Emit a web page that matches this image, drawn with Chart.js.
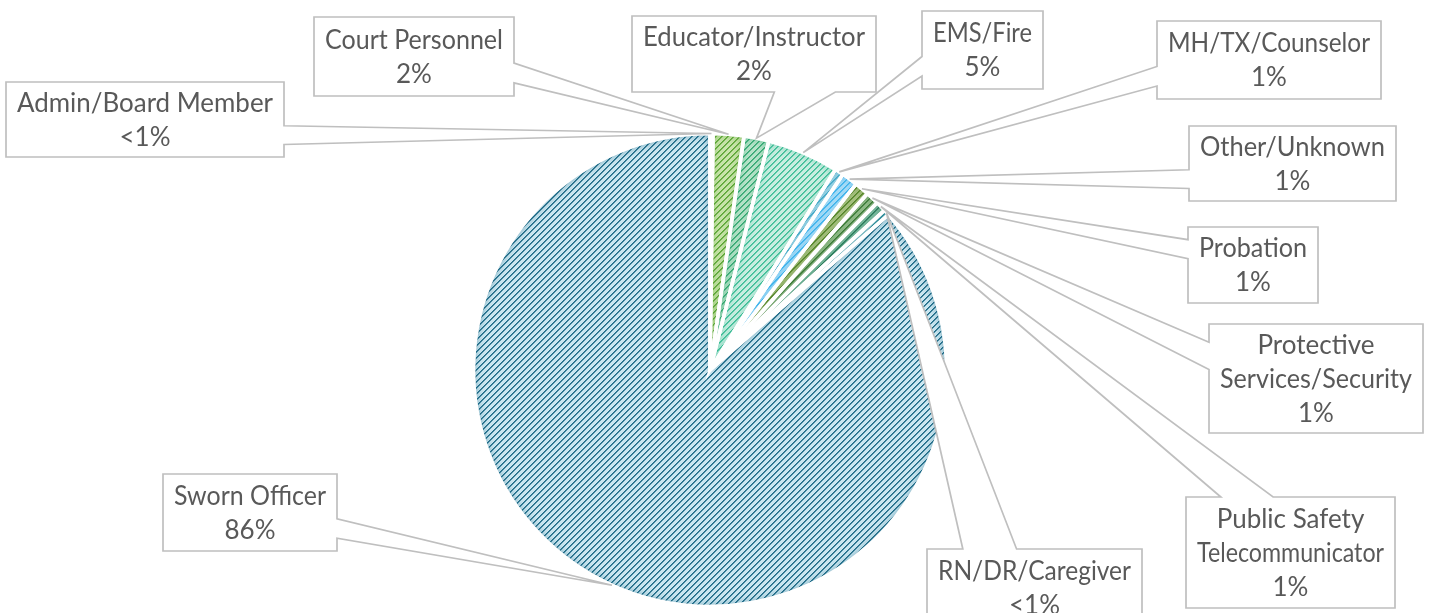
<!DOCTYPE html>
<html>
<head>
<meta charset="utf-8">
<script src="https://cdn.jsdelivr.net/npm/chart.js@4.4.0/dist/chart.umd.min.js"></script>
<style>
  html, body { margin: 0; padding: 0; background: #fff; }
  canvas { display: block; }
</style>
</head>
<body>
<canvas id="rolesChart" width="1432" height="613"></canvas>
<script>
// Respondents by role, percent of total
const categories = [
  ['Admin/Board Member'], ['Court Personnel'], ['Educator/Instructor'], ['EMS/Fire'],
  ['MH/TX/Counselor'], ['Other/Unknown'], ['Probation'], ['Protective', 'Services/Security'],
  ['Public Safety', 'Telecommunicator'], ['RN/DR/Caregiver'], ['Sworn Officer']
];
const shares = [0.2, 2.1, 1.7, 4.9, 0.6, 1.1, 1.0, 0.9, 0.7, 0.4, 86.4];

// [background, stripe] for each slice pattern
const sliceColors = [
  ['#bfe0e8', '#3f8fa3'],
  ['#c9e5ab', '#5ba536'],
  ['#b8e4ca', '#35a873'],
  ['#c9eee1', '#3dbd97'],
  ['#acdbea', '#45a9c7'],
  ['#addef7', '#3db3ec'],
  ['#adc687', '#55862a'],
  ['#99c291', '#3d7b39'],
  ['#89c5ab', '#2c7c5c'],
  ['#abd6dc', '#2f8b98'],
  ['#cbe7f1', '#1f6b87']
];

// callout boxes: x, y, width, height
const calloutBoxes = [
  [6, 82, 278, 75],
  [314, 17, 200, 79],
  [632, 16, 244, 76],
  [922, 11, 121, 78],
  [1157, 21, 224, 78],
  [1189, 126, 207, 75],
  [1188, 227, 130, 76],
  [1209, 324, 214, 109],
  [1186, 497, 209, 111],
  [927, 549, 215, 77],
  [163, 474, 174, 77]
];

function pctText(v) {
  return v < 0.5 ? '<1%' : Math.round(v) + '%';
}

const canvas = document.getElementById('rolesChart');
const ctx = canvas.getContext('2d');

// thin upward diagonal stripes on a light ground
function stripePattern(bg, fg) {
  const n = 6;
  const tile = document.createElement('canvas');
  tile.width = n;
  tile.height = n;
  const t = tile.getContext('2d');
  t.fillStyle = bg;
  t.fillRect(0, 0, n, n);
  t.fillStyle = fg;
  for (let x = 0; x < n; x++) {
    t.globalAlpha = 1;
    t.fillRect(x, n - 1 - x, 1, 1);
    t.globalAlpha = 0.75;
    t.fillRect(x, (2 * n - x) % n, 1, 1);
  }
  return ctx.createPattern(tile, 'repeat');
}

function slicePath(c, x, y, r, a0, a1) {
  c.moveTo(x, y);
  c.arc(x, y, r, a0, a1);
  c.closePath();
}

// soft darkening along the inside edges of each slice, then the white seams again
const sliceShade = {
  id: 'sliceShade',
  afterDatasetsDraw(chart) {
    const c = chart.ctx;
    const arcs = chart.getDatasetMeta(0).data;
    arcs.forEach((arc, i) => {
      const p = arc.getProps(['x', 'y', 'startAngle', 'endAngle', 'outerRadius'], true);
      c.save();
      c.beginPath();
      slicePath(c, p.x, p.y, p.outerRadius, p.startAngle, p.endAngle);
      c.clip();
      c.beginPath();
      c.rect(0, 0, chart.width, chart.height);
      slicePath(c, p.x, p.y, p.outerRadius, p.startAngle, p.endAngle);
      c.shadowColor = sliceColors[i][1] + 'aa';
      c.shadowBlur = 10;
      c.fillStyle = '#000';
      c.fill('evenodd');
      c.restore();
    });
    arcs.forEach(arc => {
      const p = arc.getProps(['x', 'y', 'startAngle', 'endAngle', 'outerRadius'], true);
      c.save();
      c.beginPath();
      slicePath(c, p.x, p.y, p.outerRadius, p.startAngle, p.endAngle);
      c.lineWidth = 3.5;
      c.strokeStyle = '#fff';
      c.lineJoin = 'miter';
      c.stroke();
      c.restore();
    });
  }
};

// rectangular callouts with a wedge pointing at each slice
const callouts = {
  id: 'callouts',
  afterDraw(chart) {
    const c = chart.ctx;
    const arcs = chart.getDatasetMeta(0).data;
    arcs.forEach((arc, i) => {
      const p = arc.getProps(['x', 'y', 'startAngle', 'endAngle', 'outerRadius'], true);
      const mid = (p.startAngle + p.endAngle) / 2;
      const tx = p.x + Math.cos(mid) * p.outerRadius;
      const ty = p.y + Math.sin(mid) * p.outerRadius;
      const [bx, by, bw, bh] = calloutBoxes[i];
      const cx = bx + bw / 2, cy = by + bh / 2;
      const dx = (tx - cx) / bw, dy = (ty - cy) / bh;
      const r = bx + bw, b = by + bh;
      const pts = [[bx, by]];
      const horiz = Math.abs(dx) > Math.abs(dy);
      const ya = ty > cy ? by + bh * 7 / 12 : by + bh * 2 / 12;
      const yb = ty > cy ? by + bh * 10 / 12 : by + bh * 5 / 12;
      const xa = tx > cx ? bx + bw * 7 / 12 : bx + bw * 2 / 12;
      const xb = tx > cx ? bx + bw * 10 / 12 : bx + bw * 5 / 12;
      if (!horiz && dy < 0) pts.push([xa, by], [tx, ty], [xb, by]);
      pts.push([r, by]);
      if (horiz && dx > 0) pts.push([r, ya], [tx, ty], [r, yb]);
      pts.push([r, b]);
      if (!horiz && dy > 0) pts.push([xb, b], [tx, ty], [xa, b]);
      pts.push([bx, b]);
      if (horiz && dx < 0) pts.push([bx, yb], [tx, ty], [bx, ya]);

      c.save();
      c.beginPath();
      pts.forEach(([px, py], k) => k ? c.lineTo(px, py) : c.moveTo(px, py));
      c.closePath();
      c.fillStyle = '#fff';
      c.fill();
      c.lineWidth = 1.7;
      c.strokeStyle = '#bfbfbf';
      c.stroke();

      const lines = categories[i].concat([pctText(shares[i])]);
      const lh = 34;
      c.fillStyle = '#595959';
      c.font = '26px Lato';
      c.textAlign = 'center';
      c.textBaseline = 'middle';
      lines.forEach((s, k) => {
        c.fillText(s, cx, cy + 1 + (k - (lines.length - 1) / 2) * lh, bw - 22);
      });
      c.restore();
    });
  }
};

new Chart(ctx, {
  type: 'pie',
  data: {
    labels: categories,
    datasets: [{
      data: shares,
      backgroundColor: sliceColors.map(([bg, fg]) => stripePattern(bg, fg)),
      borderColor: '#fff',
      borderWidth: 3.5
    }]
  },
  options: {
    responsive: false,
    animation: false,
    radius: 236.5,
    layout: { padding: { left: 0, right: 12, top: 127, bottom: 0 } },
    plugins: {
      legend: { display: false },
      tooltip: { enabled: false }
    }
  },
  plugins: [sliceShade, callouts]
});
</script>
</body>
</html>
